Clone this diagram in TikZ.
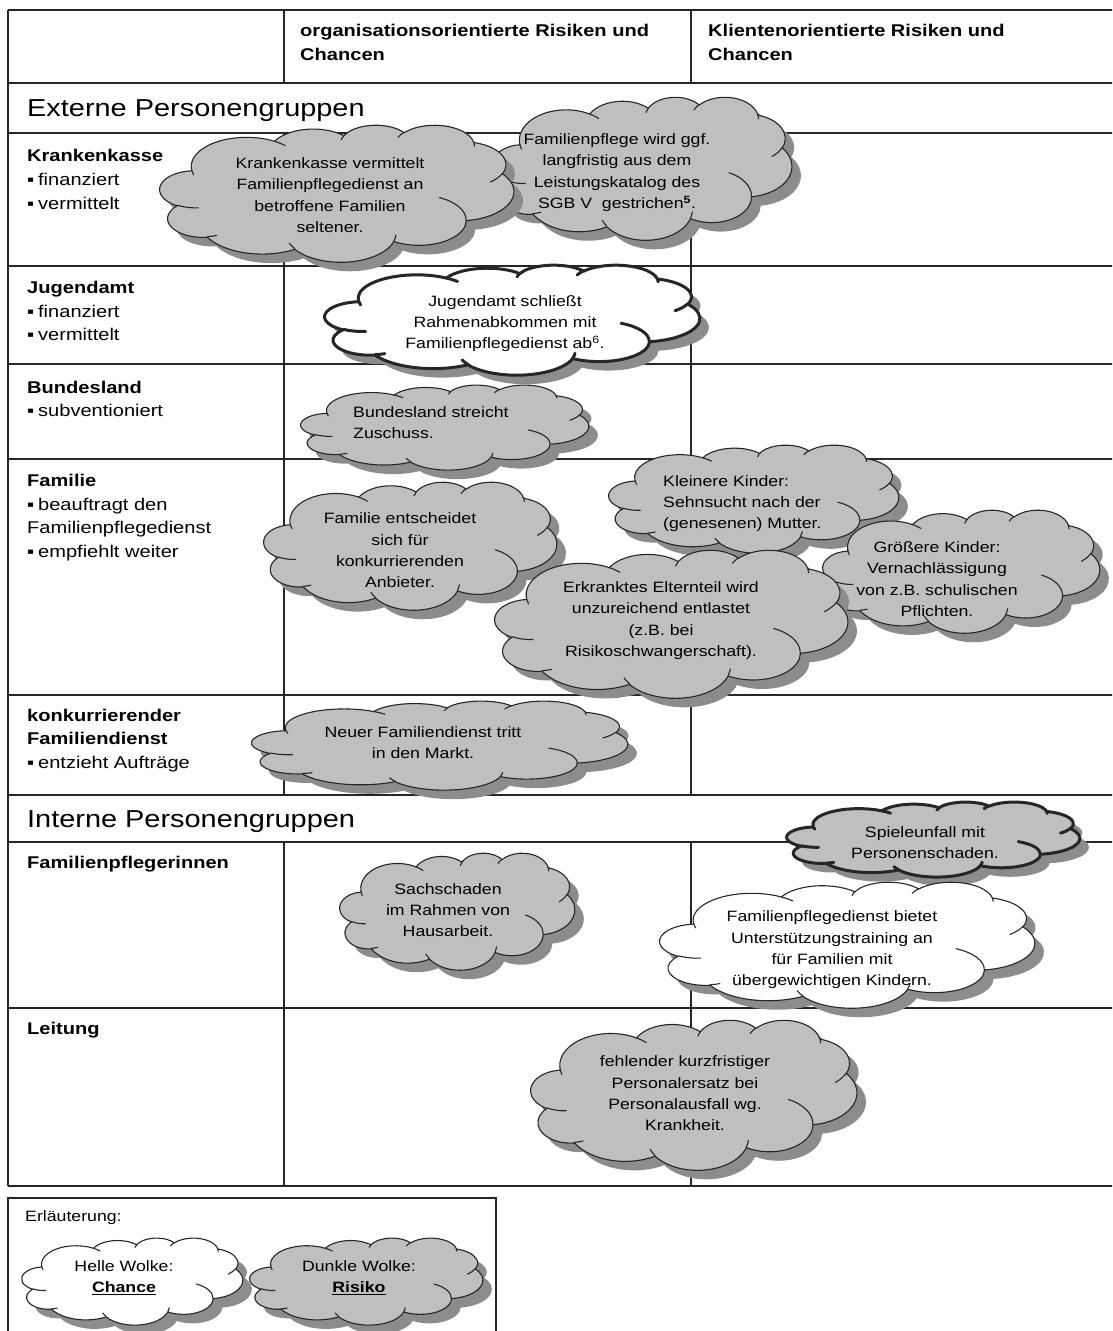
\documentclass[tikz,border=0pt]{standalone}
\usepackage{fontspec}
\setmainfont[FakeStretch=1.18]{Liberation Sans}
\newcommand{\bul}{\makebox[11pt][l]{▪}}
\makeatletter
% convert an OOXML arcTo (visual angles) to TikZ parametric angles
\newcommand\wcprep[5]{%
  \pgfmathsetmacro\wc@s{atan2((#2)*sin(#4),(#3)*cos(#4))}%
  \pgfmathsetmacro\wc@e{atan2((#2)*sin((#4)+(#5)),(#3)*cos((#4)+(#5)))}%
  \pgfmathsetmacro\wc@d{\wc@e-\wc@s}%
  \pgfmathsetmacro\wc@d{\wc@d+360*((#5)>0)*(\wc@d<0)-360*((#5)<0)*(\wc@d>0)}%
  \expandafter\xdef\csname wcS#1\endcsname{\wc@s}%
  \expandafter\xdef\csname wcD#1\endcsname{\wc@d}%
}
\makeatother
\def\wcoutline{(39,143.7)
 arc[start angle=\wcSa, delta angle=\wcDa, x radius=67.53, y radius=91.90]
 arc[start angle=\wcSb, delta angle=\wcDb, x radius=53.33, y radius=72.67]
 arc[start angle=\wcSc, delta angle=\wcDc, x radius=43.65, y radius=59.45]
 arc[start angle=\wcSd, delta angle=\wcDd, x radius=48.57, y radius=65.95]
 arc[start angle=\wcSe, delta angle=\wcDe, x radius=53.33, y radius=72.73]
 arc[start angle=\wcSf, delta angle=\wcDf, x radius=67.75, y radius=92.20]
 arc[start angle=\wcSg, delta angle=\wcDg, x radius=57.85, y radius=78.67]
 arc[start angle=\wcSh, delta angle=\wcDh, x radius=67.52, y radius=92.15]
 arc[start angle=\wcSi, delta angle=\wcDi, x radius=77.20, y radius=105.43]
 arc[start angle=\wcSj, delta angle=\wcDj, x radius=43.60, y radius=59.18]
 arc[start angle=\wcSk, delta angle=\wcDk, x radius=43.45, y radius=59.45]
 -- cycle}
\def\wcinner{
 (46.93,261.77) arc[start angle=\wcSia, delta angle=\wcDia, x radius=43.45, y radius=59.45]
 (69.28,348.99) arc[start angle=\wcSib, delta angle=\wcDib, x radius=43.60, y radius=59.18]
 (164.78,390.90) arc[start angle=\wcSic, delta angle=\wcDic, x radius=67.52, y radius=92.15]
 (288.27,347.51) arc[start angle=\wcSid, delta angle=\wcDid, x radius=67.52, y radius=92.15]
 (341.29,229.54) arc[start angle=\wcSie, delta angle=\wcDie, x radius=57.85, y radius=78.67]
 (417.98,153.54) arc[start angle=\wcSif, delta angle=\wcDif, x radius=53.33, y radius=72.73]
 (383.24,54.26) arc[start angle=\wcSig, delta angle=\wcDig, x radius=48.57, y radius=65.95]
 (290.78,39.52) arc[start angle=\wcSih, delta angle=\wcDih, x radius=48.57, y radius=65.95]
 (221.41,47.20) arc[start angle=\wcSii, delta angle=\wcDii, x radius=43.65, y radius=59.45]
 (140.00,51.92) arc[start angle=\wcSij, delta angle=\wcDij, x radius=67.53, y radius=91.90]
 (41.27,157.89) arc[start angle=\wcSik, delta angle=\wcDik, x radius=67.53, y radius=91.90]
}
% name, cx, cy, width, height, fill colour, rim width
\newcommand\wolke[7]{%
  \node[wbox, minimum width=#4pt, minimum height=#5pt] (#1) at (#2,#3) {};
  \begin{scope}[shift={([shift={(9pt,-9pt)}]#1.north west)}, xscale=#4/432, yscale=#5/432]
    \fill[wshadow] \wcoutline;
  \end{scope}
  \begin{scope}[shift={(#1.north west)}, xscale=#4/432, yscale=#5/432]
    \filldraw[fill=#6, draw=black!85, line width=#7, line join=round] \wcoutline;
    \draw[draw=black!85, line width=#7, line cap=round] \wcinner;
  \end{scope}
}
\begin{document}
\begin{tikzpicture}[x=1pt,y=-1pt,
  hline/.style={line width=1.8pt, draw=black!85},
  vline/.style={line width=1.3pt, draw=black!85},
  wbox/.style={rectangle, inner sep=0pt, draw=none},
  wshadow/.style={fill=black!45},
  ctext/.style={font=\fontsize{15}{21.3}\selectfont, align=center, inner sep=0pt},
  ltext/.style={ctext, align=left, anchor=west},
  rowlabel/.style={font=\fontsize{17}{23.7}\selectfont, align=left, anchor=west, inner sep=0pt},
  headtext/.style={font=\bfseries\fontsize{17}{24}\selectfont, align=left, anchor=west, inner sep=0pt},
  section/.style={font=\fontsize{24.5}{28}\selectfont, anchor=west, inner sep=0pt}
]
\wcprep{a}{67.53}{91.90}{-190.48748}{123.78053}
\wcprep{b}{53.33}{72.67}{-144.10238}{89.94523}
\wcprep{c}{43.65}{59.45}{-145.80792}{99.72302}
\wcprep{d}{48.57}{65.95}{-130.98607}{117.24173}
\wcprep{e}{53.33}{72.73}{-78.70888}{109.02692}
\wcprep{f}{67.75}{92.20}{-46.26725}{130.26900}
\wcprep{g}{57.85}{78.67}{0.62502}{114.03333}
\wcprep{h}{67.52}{92.15}{22.45160}{115.17255}
\wcprep{i}{77.20}{105.43}{66.24263}{75.71102}
\wcprep{j}{43.60}{59.18}{-274.94208}{146.73557}
\wcprep{k}{43.45}{59.45}{-246.82850}{152.51885}
\wcprep{ia}{43.45}{59.45}{86.7420}{26.4295}
\wcprep{ib}{43.60}{59.18}{73.61047}{11.44747}
\wcprep{ic}{67.52}{92.15}{137.62415}{14.0811}
\wcprep{id}{67.52}{92.15}{6.45327}{15.99835}
\wcprep{ie}{57.85}{78.67}{-70.29235}{70.91737}
\wcprep{if}{53.33}{72.73}{30.31803}{27.7515}
\wcprep{ig}{48.57}{65.95}{-13.74433}{14.8589}
\wcprep{ih}{48.57}{65.95}{-149.18145}{18.19537}
\wcprep{ii}{43.65}{59.45}{-163.49427}{17.68635}
\wcprep{ij}{67.53}{91.90}{-66.70695}{12.31935}
\wcprep{ik}{67.53}{91.90}{157.65435}{11.85817}

\useasboundingbox (0,0) rectangle (1112,1331);
\clip (0,0) rectangle (1112,1331);

% ---------- table ----------
\foreach \yy in {10,83,133,266,364,459,695,795,842,1008,1186}
  \draw[hline] (8,\yy) -- (1120,\yy);
\draw[vline] (8,10) -- (8,1186);
\foreach \xx in {284,691} {
  \draw[vline] (\xx,10) -- (\xx,83);
  \draw[vline] (\xx,133) -- (\xx,795);
  \draw[vline] (\xx,842) -- (\xx,1186);
}

% ---------- header and row labels ----------
\node[headtext] (hdrA) at (300,42) {organisationsorientierte Risiken und\\Chancen};
\node[headtext] (hdrB) at (708,42) {Klientenorientierte Risiken und\\Chancen};
\node[section] (secExt) at (27,111) {Externe Personengruppen};
\node[rowlabel] (lblKK) at (27,179.5) {\textbf{Krankenkasse}\\\bul finanziert\\\bul vermittelt};
\node[rowlabel] (lblJA) at (27,311) {\textbf{Jugendamt}\\\bul finanziert\\\bul vermittelt};
\node[rowlabel] (lblBL) at (27,399) {\textbf{Bundesland}\\\bul subventioniert};
\node[rowlabel] (lblFam) at (27,517.5) {\textbf{Familie}\\\bul beauftragt den\\Familienpflegedienst\\\bul empfiehlt weiter};
\node[rowlabel] (lblKonk) at (27,740.5) {\textbf{konkurrierender}\\\textbf{Familiendienst}\\\bul entzieht Aufträge};
\node[section] (secInt) at (27,822) {Interne Personengruppen};
\node[rowlabel] (lblFP) at (27,864) {\textbf{Familienpflegerinnen}};
\node[rowlabel] (lblLeit) at (27,1030) {\textbf{Leitung}};

% ---------- clouds ----------
\wolke{cFP}{642.5}{168.5}{299}{143}{black!25}{1.1pt}
\node[ctext] (tFP) at (617,172.5) {Familienpflege wird ggf.\\langfristig aus dem\\Leistungskatalog des\\SGB V\ \ gestrichen\textsuperscript{\textbf{5}}.};

\wolke{cKK}{337}{193.5}{354}{137}{black!25}{1.1pt}
\node[ctext] (tKK) at (330,195) {Krankenkasse vermittelt\\Familienpflegedienst an\\betroffene Familien\\seltener.};

\wolke{cJA}{512.5}{320}{375}{110}{white}{3pt}
\node[ctext] (tJA) at (505,323.5) {Jugendamt schließt\\Rahmenabkommen mit\\Familienpflegedienst ab\textsuperscript{6}.};

\wolke{cBL}{445}{427.5}{288}{85}{black!25}{1.1pt}
\node[ltext] (tBL) at (353,422.5) {Bundesland streicht\\Zuschuss.};

\wolke{cFE}{410.5}{546}{293}{128}{black!25}{1.1pt}
\node[ctext] (tFE) at (400,550.5) {Familie entscheidet\\sich für\\konkurrierenden\\Anbieter.};

\wolke{cKl}{754}{499}{290}{108}{black!25}{1.1pt}
\node[ltext] (tKl) at (663,503.5) {Kleinere Kinder:\\Sehnsucht nach der\\(genesenen) Mutter.};

\wolke{cGr}{961.5}{571.5}{277}{123}{black!25}{1.1pt}
\node[ctext] (tGr) at (937,579) {Größere Kinder:\\Vernachlässigung\\von z.B. schulischen\\Pflichten.};

\wolke{cEE}{671.5}{624}{353}{148}{black!25}{1.1pt}
\node[ctext] (tEE) at (661,620.5) {Erkranktes Elternteil wird\\unzureichend entlastet\\(z.B. bei\\Risikoschwangerschaft).};

\wolke{cNF}{440}{745.5}{376}{89}{black!25}{1.1pt}
\node[ctext] (tNF) at (423,742.5) {Neuer Familiendienst tritt\\in den Markt.};

\wolke{cSU}{933.5}{839.5}{293}{75}{black!25}{3pt}
\node[ctext] (tSU) at (925,842.5) {Spieleunfall mit\\Personenschaden.};

\wolke{cSS}{457.5}{911.5}{235}{117}{black!25}{1.1pt}
\node[ctext] (tSS) at (448,910) {Sachschaden\\im Rahmen von\\Hausarbeit.};

\wolke{cFB}{847.5}{945}{375}{126}{white}{1.1pt}
\node[ctext] (tFB) at (832,950) {Familienpflegedienst bietet\\Unterstützungstraining an\\für Familien mit\\übergewichtigen Kindern.};

\wolke{cFK}{694}{1095}{326}{150}{black!25}{1.1pt}
\node[ctext] (tFK) at (685,1093.5) {fehlender kurzfristiger\\Personalersatz bei\\Personalausfall wg.\\Krankheit.};

% ---------- legend ----------
\draw[hline, line width=1.3pt] (8,1198) rectangle (496,1345);
\node[rowlabel, font=\fontsize{15}{18}\selectfont] (legTitle) at (25,1218) {Erläuterung:};
\wolke{cLH}{132.5}{1281.5}{221}{87}{white}{1.1pt}
\node[ctext] (tLH) at (124,1277.5) {Helle Wolke:\\\underline{\textbf{Chance}}};
\wolke{cLD}{366.5}{1281.5}{233}{87}{black!25}{1.1pt}
\node[ctext] (tLD) at (359,1277.5) {Dunkle Wolke:\\\underline{\textbf{Risiko}}};
\end{tikzpicture}
\end{document}
